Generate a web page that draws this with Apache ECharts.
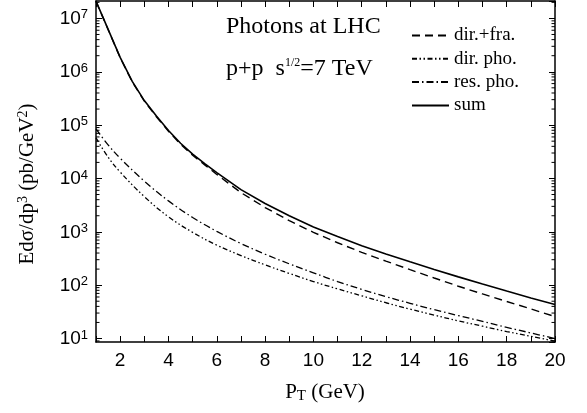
<!DOCTYPE html>
<html><head><meta charset="utf-8">
<script src="https://cdn.jsdelivr.net/npm/echarts@6/dist/echarts.min.js"></script>
<style>html,body{margin:0;padding:0;background:#fff}#c{width:587px;height:413px}</style>
</head><body><div id="c"></div>
<script>
// ---- data ----
const ptMain = [1, 2, 2.5, 3, 3.5, 4, 4.5, 5, 5.5, 6, 7, 8, 9, 10, 11, 12, 13, 14, 15, 16, 17, 18, 19, 20];
const dirFra = [2.09e7, 1.84e6, 6.46e5, 2.82e5, 1.43e5, 7.67e4, 4.37e4, 2.72e4, 1.8e4, 1.19e4, 5430, 2850, 1620, 977, 624, 412, 282, 195, 136, 95.5, 68.4, 49.5, 35.9, 25.7];
const sumVals = [2.11e7, 1.86e6, 6.6e5, 2.88e5, 1.48e5, 7.94e4, 4.57e4, 2.85e4, 1.9e4, 1.29e4, 6170, 3390, 2000, 1230, 813, 550, 385, 275, 197, 143, 105, 77.6, 57.5, 43.2];
const ptLow = [1, 1.5, 2, 3, 4, 5, 6, 7, 8, 9, 10, 11, 12, 13, 14, 15, 16, 17, 18, 19, 20];
const dirPho = [57500, 25100, 13200, 4570, 1910, 977, 562, 359, 240, 166, 117, 85.1, 63.1, 46.8, 35.5, 27.5, 21.4, 17, 13.5, 11, 8.9];
const resPho = [85100, 42700, 24000, 8910, 3800, 1860, 1020, 603, 380, 251, 170, 117, 83.2, 61, 45.7, 34.7, 26.9, 20.9, 16.2, 12.7, 10];
const seriesNames = ['dir.+fra.', 'dir. pho.', 'res. pho.', 'sum'];
const xMin = 1, xMax = 20, yMin = 8.6, yMax = 2.12e7;

// minor tick positions on the log axis (2..9 x 10^n)
const minorTicks = [];
for (let d = 0; d <= 7; d++) for (let k = 2; k <= 9; k++) { const v = k * Math.pow(10, d); if (v > yMin && v < yMax) minorTicks.push([xMin, v]); }

const zip = (xs, ys) => xs.map((x, i) => [x, ys[i]]);
const SERIF = '"Liberation Serif","Times New Roman",serif';
const SANS = '"Liberation Sans",Arial,sans-serif';
const axisLineStyle = { color: '#000', width: 1.5 };

const chart = echarts.init(document.getElementById('c'), null, { renderer: 'canvas' });
const yLabelFmt = v => { const e = Math.round(Math.log10(v)); if (Math.abs(Math.pow(10, e) - v) / v > 1e-6) return ''; return '{b|10}{s|' + e + '}'; };
const yRich = {
  b: { fontFamily: SANS, fontSize: 19, color: '#000', lineHeight: 20, verticalAlign: 'bottom' },
  s: { fontFamily: SANS, fontSize: 13, color: '#000', lineHeight: 13, verticalAlign: 'top' }
};
const baseY = {
  type: 'log', logBase: 10, min: yMin, max: yMax,
  axisLine: { show: true, lineStyle: axisLineStyle },
  axisTick: { show: true, inside: true, length: 6, lineStyle: { color: '#000', width: 1 } },
  splitLine: { show: false }, minorTick: { show: false }
};
const baseX = {
  type: 'value', min: xMin, max: xMax, interval: 1,
  axisLine: { show: true, lineStyle: axisLineStyle, onZero: false },
  axisTick: { show: true, inside: true, length: 6, lineStyle: { color: '#000', width: 1 } },
  splitLine: { show: false }
};
const lineSeries = (name, xs, ys, width, dash, smooth) => ({
  name, type: 'line', data: zip(xs, ys), showSymbol: false, symbol: 'circle', symbolSize: 0, smooth,
  lineStyle: { color: '#000', width, type: dash }, itemStyle: { color: '#000' }
});

chart.setOption({
  animation: false,
  backgroundColor: '#fff',
  grid: { left: 96, right: 32, top: 1, bottom: 71, containLabel: false },
  xAxis: [
    Object.assign({}, baseX, { position: 'bottom',
      axisLabel: { show: true, margin: 9, fontFamily: SANS, fontSize: 19, color: '#000', formatter: v => (v % 2 === 0 ? String(v) : '') } }),
    Object.assign({}, baseX, { position: 'top', axisLabel: { show: false } })
  ],
  yAxis: [
    Object.assign({}, baseY, { position: 'left',
      axisLabel: { show: true, margin: 8, showMinLabel: false, showMaxLabel: false, formatter: yLabelFmt, rich: yRich } }),
    Object.assign({}, baseY, { position: 'right', axisLabel: { show: false } })
  ],
  legend: {
    orient: 'vertical', left: 406, top: 21, itemWidth: 37, itemHeight: 14, itemGap: 4.3,
    data: seriesNames,
    itemStyle: { opacity: 0, borderWidth: 0 },
    textStyle: { fontFamily: SERIF, fontSize: 19, color: '#000' }
  },
  series: [
    lineSeries('dir.+fra.', ptMain, dirFra, 1.4, [8, 5], false),
    lineSeries('dir. pho.', ptLow, dirPho, 1.3, [5, 2.5, 1.5, 2.5, 1.5, 2.5], 0.4),
    lineSeries('res. pho.', ptLow, resPho, 1.3, [7, 3, 1.5, 3], 0.4),
    lineSeries('sum', ptMain, sumVals, 1.6, 'solid', false),
    { name: 'minorTicks', type: 'custom', xAxisIndex: 0, yAxisIndex: 0, data: minorTicks, silent: true, clip: false,
      renderItem: (params, api) => {
        const v = api.value(1);
        const pL = api.coord([xMin, v]), pR = api.coord([xMax, v]);
        return { type: 'group', children: [
          { type: 'line', shape: { x1: pL[0], y1: pL[1], x2: pL[0] + 3.5, y2: pL[1] }, style: { stroke: '#000', lineWidth: 1 } },
          { type: 'line', shape: { x1: pR[0], y1: pR[1], x2: pR[0] - 3.5, y2: pR[1] }, style: { stroke: '#000', lineWidth: 1 } }
        ] };
      } }
  ],
  graphic: [
    { type: 'text', left: 226, top: 15, style: { text: 'Photons at LHC', font: '24px ' + SERIF, fill: '#000' } },
    { type: 'text', left: 226, top: 57, style: { text: 'p+p  s{s|1/2}=7 TeV', font: '24px ' + SERIF, fill: '#000',
        rich: { s: { fontFamily: SERIF, fontSize: 12, verticalAlign: 'top', lineHeight: 12 } } } },
    { type: 'text', x: 27, y: 184, rotation: Math.PI / 2,
      style: { text: 'Edσ/dp{s|3} (pb/GeV{s|2})', font: '21px ' + SERIF, fill: '#000', align: 'center', verticalAlign: 'middle',
        rich: { s: { fontFamily: SERIF, fontSize: 14, verticalAlign: 'top', lineHeight: 14 } } } },
    { type: 'text', x: 325, y: 393, style: { text: '{m|P}{t|T}{m| (GeV)}', fill: '#000', align: 'center', verticalAlign: 'middle',
        rich: {
          m: { fontFamily: SERIF, fontSize: 21, lineHeight: 22, verticalAlign: 'top', color: '#000' },
          t: { fontFamily: SERIF, fontSize: 15, lineHeight: 15, verticalAlign: 'bottom', color: '#000', padding: [11, 0, 0, 0] }
        } } }
  ]
});
</script></body></html>
